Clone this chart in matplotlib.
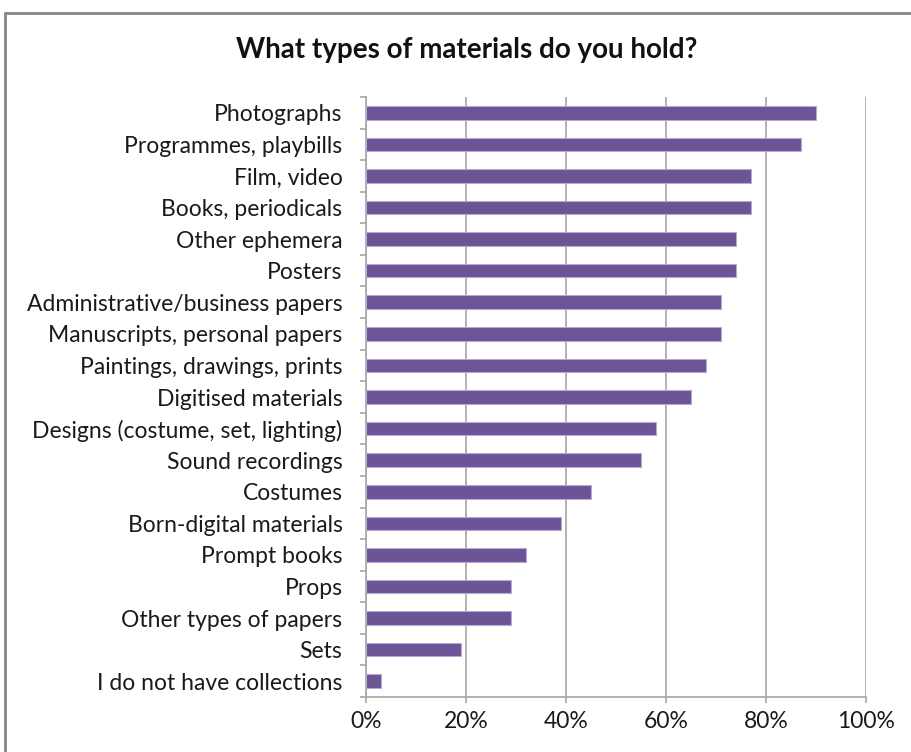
import matplotlib.pyplot as plt
import numpy as np
from matplotlib.patches import Rectangle
from matplotlib.ticker import FixedLocator, PercentFormatter

categories = [
    "Photographs",
    "Programmes, playbills",
    "Film, video",
    "Books, periodicals",
    "Other ephemera",
    "Posters",
    "Administrative/business papers",
    "Manuscripts, personal papers",
    "Paintings, drawings, prints",
    "Digitised materials",
    "Designs (costume, set, lighting)",
    "Sound recordings",
    "Costumes",
    "Born-digital materials",
    "Prompt books",
    "Props",
    "Other types of papers",
    "Sets",
    "I do not have collections",
]
percent = [90, 87, 77, 77, 74, 74, 71, 71, 68, 65, 58, 55, 45, 39, 32, 29, 29, 19, 3]
x_ticks = [0, 20, 40, 60, 80, 100]

BAR = "#6C5496"
EDGE = "#B9A9D0"
GRID = "#A6A6A6"

plt.rcParams["font.family"] = ["Lato", "DejaVu Sans"]

fig = plt.figure(figsize=(9.12, 7.52), dpi=100)
ax = fig.add_axes([366 / 912, 1 - 697 / 752, 500 / 912, 600 / 752])

# outer chart frame (only left and top visible in the crop)
fig.patches.append(Rectangle((5 / 912, -0.1), 1.2, (752 - 13) / 752 + 0.1,
                             transform=fig.transFigure, fill=False,
                             edgecolor="#858585", linewidth=2))

y = np.arange(len(categories))
ax.barh(y, percent, height=0.43, color=BAR, edgecolor=EDGE, linewidth=0.8, zorder=3)

ax.set_xlim(0, 100)
ax.set_ylim(len(categories) - 0.5, -0.5)
ax.set_xticks(x_ticks)
ax.xaxis.set_major_formatter(PercentFormatter(decimals=0))
ax.set_yticks(y)
ax.set_yticklabels(categories)
ax.yaxis.set_minor_locator(FixedLocator(np.arange(-0.5, len(categories), 1)))

ax.grid(axis="x", color=GRID, linewidth=1.2, zorder=0)
for s in ["top", "right"]:
    ax.spines[s].set_visible(False)
for s in ["left", "bottom"]:
    ax.spines[s].set_color(GRID)
    ax.spines[s].set_linewidth(1.2)

ax.tick_params(axis="y", which="major", length=0, pad=17, labelsize=16.5, labelcolor="#1a1a1a")
ax.tick_params(axis="y", which="minor", length=4, color=GRID, width=1.2)
ax.tick_params(axis="x", length=4, color=GRID, width=1.2, pad=6, labelsize=16.5, labelcolor="#1a1a1a")

fig.text(0.512, 1 - 50 / 752, "What types of materials do you hold?", ha="center", va="center",
         fontsize=20, fontweight="bold", color="#111111")

fig.savefig("out.png", dpi=100, facecolor="white")
